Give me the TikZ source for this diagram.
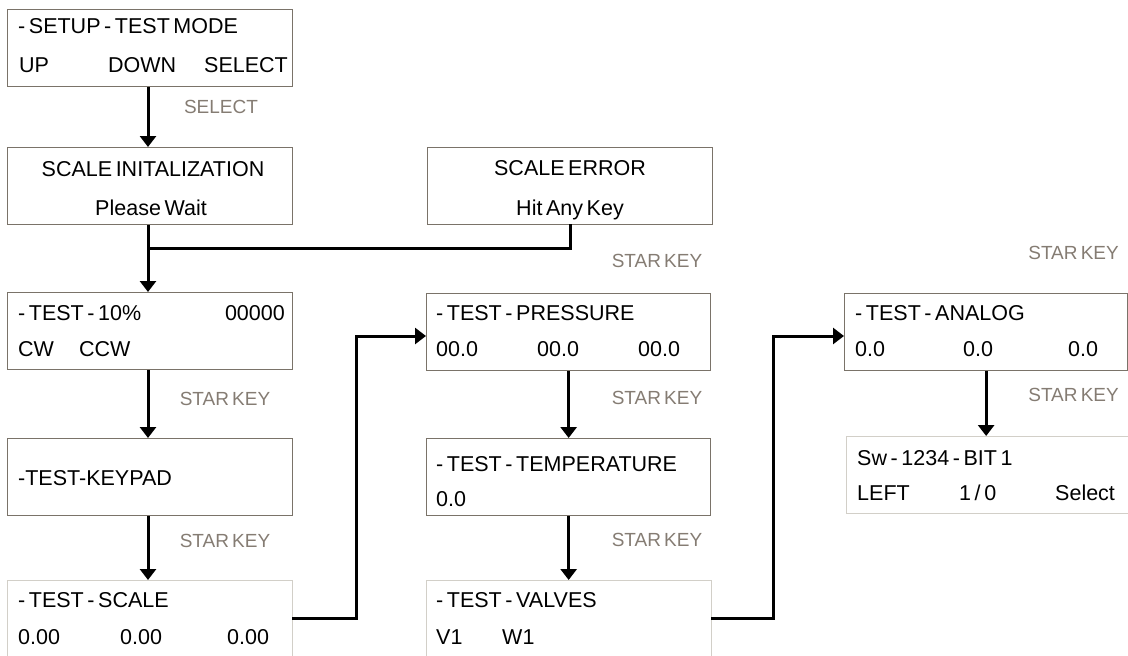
\documentclass[tikz,border=0pt]{standalone}
\usepackage{fontspec}
\setmainfont{Liberation Sans}[WordSpace=0.6]
\usetikzlibrary{arrows.meta}

\definecolor{frame}{HTML}{7A7369}
\definecolor{lightframe}{HTML}{D2CFC8}
\definecolor{keygray}{HTML}{857C73}

\tikzset{
  screen/.style={draw=frame, line width=1.3pt, anchor=north west, inner sep=0pt,
    minimum width=#1, minimum height=77pt},
  screen/.default=285pt,
  dimscreen/.style={screen=#1, draw=lightframe},
  dimscreen/.default=285pt,
  lcd/.style={font=\fontsize{21.5}{23}\selectfont, inner sep=0pt, anchor=base west},
  lcdr/.style={lcd, anchor=base east},
  lcdc/.style={lcd, anchor=base},
  keylabel/.style={font=\fontsize{19}{21}\selectfont, text=keygray, inner sep=0pt},
  link/.style={line width=3pt, line cap=rect},
  flow/.style={line width=3pt, -{Triangle[width=16pt,length=11pt]}},
}

\begin{document}
\begin{tikzpicture}[x=1pt,y=-1pt]
\useasboundingbox (0,0) rectangle (1128,656);

% ---- screens ----
\node[screen] (setup) at (7,9) {};
\node[screen] (init) at (7,147) {};
\node[screen] (err) at (427,147) {};
\node[screen] (ten) at (7,292) {};
\node[screen] (keypad) at (7,438) {};
\node[dimscreen] (scale) at (7,580) {};
\node[screen=284pt] (press) at (426,293) {};
\node[screen=284pt] (temp) at (426,438) {};
\node[dimscreen] (valves) at (426,580) {};
\node[screen=283pt] (analog) at (844,293) {};
\node[dimscreen=300pt] (bit) at (846,436) {};

% ---- screen texts ----
\node[lcd] (setupA) at (18,33) {- SETUP - TEST MODE};
\node[lcd] (setupB) at (19,72) {UP};
\node[lcd] (setupC) at (108,72) {DOWN};
\node[lcdr] (setupD) at (288,72) {SELECT};

\node[lcdc] (initA) at (153,176) {SCALE INITALIZATION};
\node[lcdc] (initB) at (151,215) {Please Wait};

\node[lcdc] (errA) at (570,175) {SCALE ERROR};
\node[lcdc] (errB) at (570,215) {Hit Any Key};

\node[lcd] (tenA) at (18,320) {- TEST - 10\%};
\node[lcdr] (tenB) at (285,320) {00000};
\node[lcd] (tenC) at (18,356) {CW};
\node[lcd] (tenD) at (79,356) {CCW};

\node[lcd] (keypadA) at (18,485) {-TEST-KEYPAD};

\node[lcd] (scaleA) at (18,607) {- TEST - SCALE};
\node[lcd] (scaleB) at (18,644) {0.00};
\node[lcd] (scaleC) at (120,644) {0.00};
\node[lcd] (scaleD) at (227,644) {0.00};

\node[lcd] (pressA) at (436,320) {- TEST - PRESSURE};
\node[lcd] (pressB) at (436,356) {00.0};
\node[lcd] (pressC) at (537,356) {00.0};
\node[lcd] (pressD) at (638,356) {00.0};

\node[lcd] (tempA) at (436,471) {- TEST - TEMPERATURE};
\node[lcd] (tempB) at (436,506) {0.0};

\node[lcd] (valvesA) at (436,607) {- TEST - VALVES};
\node[lcd] (valvesB) at (436,644) {V1};
\node[lcd] (valvesC) at (502,644) {W1};

\node[lcd] (analogA) at (855,320) {- TEST - ANALOG};
\node[lcd] (analogB) at (855,356) {0.0};
\node[lcd] (analogC) at (963,356) {0.0};
\node[lcd] (analogD) at (1068,356) {0.0};

\node[lcd] (bitA) at (857,465) {Sw - 1234 - BIT 1};
\node[lcd] (bitB) at (857,500) {LEFT};
\node[lcd] (bitC) at (959,500) {1 / 0};
\node[lcd] (bitD) at (1055,500) {Select};

% ---- key labels ----
\node[keylabel] (kSelect) at (221,107) {SELECT};
\node[keylabel] (kErr) at (657,261) {STAR KEY};
\node[keylabel, anchor=east] (kCorner) at (1119,253) {STAR KEY};
\node[keylabel] (kTen) at (225,399) {STAR KEY};
\node[keylabel] (kKeypad) at (225,541) {STAR KEY};
\node[keylabel] (kPress) at (657,398) {STAR KEY};
\node[keylabel] (kTemp) at (657,540) {STAR KEY};
\node[keylabel, anchor=east] (kAnalog) at (1119,395) {STAR KEY};

% ---- connectors ----
\coordinate (merge) at (148,248);
\coordinate (scaleOut) at (292,618);
\coordinate (pressIn) at (426,336);
\coordinate (valvesOut) at (711,618);
\coordinate (analogIn) at (844,336);

\draw[flow] (setup.south -| merge) -- (init.north -| merge);
\draw[flow] (init.south -| merge) -- (ten.north -| merge);
\draw[link] (err.south) |- (merge);
\draw[flow] (ten.south -| merge) -- (keypad.north -| merge);
\draw[flow] (keypad.south -| merge) -- (scale.north -| merge);
\draw[flow] (scaleOut) -| (356,336) -- (pressIn);
\draw[flow] (press.south) -- (temp.north -| press.south);
\draw[flow] (temp.south) -- (valves.north -| temp.south);
\draw[flow] (valvesOut) -| (773,336) -- (analogIn);
\draw[flow] (analog.south) -- (bit.north -| analog.south);
\end{tikzpicture}
\end{document}
